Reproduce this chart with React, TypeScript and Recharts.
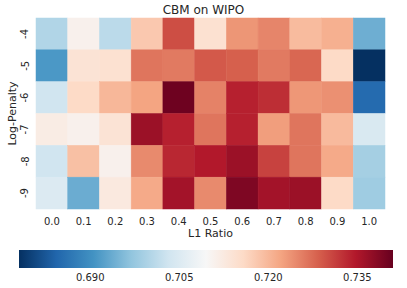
import { ScatterChart, Scatter, XAxis, YAxis, BarChart, Bar } from 'recharts';

const l1Ratios = ['0.0', '0.1', '0.2', '0.3', '0.4', '0.5', '0.6', '0.7', '0.8', '0.9', '1.0'];
const penalties = ['-4', '-5', '-6', '-7', '-8', '-9'];

// accuracy per log-penalty row, one value per l1 ratio
const row4 = [0.700, 0.711, 0.701, 0.718, 0.730, 0.7145, 0.7235, 0.725, 0.7195, 0.7208, 0.694];
const row5 = [0.6912, 0.714, 0.7145, 0.7265, 0.726, 0.729, 0.7284, 0.726, 0.7278, 0.7158, 0.678];
const row6 = [0.7032, 0.7158, 0.720, 0.7221, 0.7404, 0.7253, 0.734, 0.7328, 0.7234, 0.724, 0.685];
const row7 = [0.712, 0.711, 0.714, 0.7366, 0.734, 0.7265, 0.734, 0.7227, 0.7265, 0.7196, 0.7045];
const row8 = [0.7032, 0.719, 0.711, 0.7246, 0.7334, 0.7347, 0.7366, 0.731, 0.7265, 0.7215, 0.6988];
const row9 = [0.7051, 0.6938, 0.7127, 0.7215, 0.736, 0.7246, 0.7391, 0.736, 0.7366, 0.7158, 0.6982];
const rows = [row4, row5, row6, row7, row8, row9];

const vMin = 0.678;
const vMax = 0.741;
const cbarTicks = [0.690, 0.705, 0.720, 0.735];

const rdbuR = ['#053061', '#2166ac', '#4393c3', '#92c5de', '#d1e5f0', '#f7f7f7', '#fddbc7', '#f4a582', '#d6604d', '#b2182b', '#67001f'];

function hexToRgb(h: string) {
    return [parseInt(h.slice(1, 3), 16), parseInt(h.slice(3, 5), 16), parseInt(h.slice(5, 7), 16)];
}

function colorFor(v: number) {
    let t = (v - vMin) / (vMax - vMin);
    t = Math.max(0, Math.min(1, t));
    const pos = t * (rdbuR.length - 1);
    const i = Math.min(Math.floor(pos), rdbuR.length - 2);
    const f = pos - i;
    const a = hexToRgb(rdbuR[i]);
    const b = hexToRgb(rdbuR[i + 1]);
    const c = a.map((x, k) => Math.round(x + (b[k] - x) * f));
    return `rgb(${c[0]},${c[1]},${c[2]})`;
}

const cells = rows.flatMap((r, ri) => r.map((v, ci) => ({ x: ci + 0.5, y: ri + 0.5, v })));
const cbarData = [{ name: 'cbar', range: [vMin, vMax] }];

const FONT = 'DejaVu Sans, sans-serif';
const TXT = '#262626';
const CHART_W = 407;
const MAIN_H = 240;
const margin = { top: 18, right: 22, left: 0, bottom: 0 };
const Y_W = 36;
const X_H = 31;
const cellW = (CHART_W - margin.left - margin.right - Y_W) / l1Ratios.length;
const cellH = (MAIN_H - margin.top - margin.bottom - X_H) / penalties.length;

const HeatCell = (props: any) => {
    const { cx, cy, payload } = props;
    const fill = colorFor(payload.v);
    return <rect x={cx - cellW / 2} y={cy - cellH / 2} width={cellW} height={cellH} fill={fill} stroke={fill} strokeWidth={0.5} />;
};

const XTick = (props: any) => {
    const { x, y, payload } = props;
    return (
        <text x={x} y={y + 10} textAnchor="middle" dominantBaseline="central" fontFamily={FONT} fontSize={10} fill={TXT}>
            {l1Ratios[Math.floor(payload.value)]}
        </text>
    );
};

const YTick = (props: any) => {
    const { x, y, payload } = props;
    const tx = x - 9;
    return (
        <text x={tx} y={y} transform={`rotate(-90 ${tx} ${y})`} textAnchor="middle" dominantBaseline="central" fontFamily={FONT} fontSize={10} fill={TXT}>
            {penalties[Math.floor(payload.value)]}
        </text>
    );
};

const CbarTick = (props: any) => {
    const { x, y, payload } = props;
    return (
        <text x={x} y={y + 7} textAnchor="middle" dominantBaseline="central" fontFamily={FONT} fontSize={10} fill={TXT}>
            {payload.value.toFixed(3)}
        </text>
    );
};

export default function App() {
    return (
        <div style={{ position: 'absolute', left: 0, top: 0, width: CHART_W, height: 288, background: '#fff' }}>
            <svg width={0} height={0} style={{ position: 'absolute' }}>
                <defs>
                    <linearGradient id="rdbuGrad" x1="0" y1="0" x2="1" y2="0">
                        {rdbuR.map((c, i) => (
                            <stop key={i} offset={i / (rdbuR.length - 1)} stopColor={c} />
                        ))}
                    </linearGradient>
                </defs>
            </svg>
            <div style={{ position: 'absolute', left: 0, top: 3, width: CHART_W, textAlign: 'center', fontFamily: FONT, fontSize: 12, color: TXT }}>
                CBM on WIPO
            </div>
            <div style={{ position: 'absolute', left: 0, top: 0 }}>
                <ScatterChart width={CHART_W} height={MAIN_H} margin={margin}>
                    <XAxis
                        type="number"
                        dataKey="x"
                        domain={[0, l1Ratios.length]}
                        ticks={l1Ratios.map((_, i) => i + 0.5)}
                        axisLine={false}
                        tickLine={false}
                        tickSize={0}
                        height={X_H}
                        tick={<XTick />}
                        interval={0}
                        label={{ value: 'L1 Ratio', position: 'insideBottom', offset: 3, fontFamily: FONT, fontSize: 11, fill: TXT }}
                    />
                    <YAxis
                        type="number"
                        dataKey="y"
                        domain={[0, penalties.length]}
                        ticks={penalties.map((_, i) => i + 0.5)}
                        reversed
                        axisLine={false}
                        tickLine={false}
                        tickSize={0}
                        width={Y_W}
                        tick={<YTick />}
                        interval={0}
                        label={{ value: 'Log-Penalty', angle: -90, position: 'insideLeft', offset: 12, fontFamily: FONT, fontSize: 11, fill: TXT, style: { textAnchor: 'middle' } }}
                    />
                    <Scatter data={cells} shape={<HeatCell />} isAnimationActive={false} />
                </ScatterChart>
            </div>
            <div style={{ position: 'absolute', left: 0, top: 240 }}>
                <BarChart
                    width={CHART_W}
                    height={48}
                    data={cbarData}
                    layout="vertical"
                    barCategoryGap={0}
                    margin={{ top: 10, right: 14, left: 19, bottom: 0 }}
                >
                    <XAxis
                        type="number"
                        domain={[vMin, vMax]}
                        ticks={cbarTicks}
                        allowDataOverflow
                        axisLine={false}
                        tickLine={false}
                        tickSize={0}
                        height={20}
                        tick={<CbarTick />}
                    />
                    <YAxis type="category" dataKey="name" hide />
                    <Bar dataKey="range" fill="url(#rdbuGrad)" isAnimationActive={false} />
                </BarChart>
            </div>
        </div>
    );
}
